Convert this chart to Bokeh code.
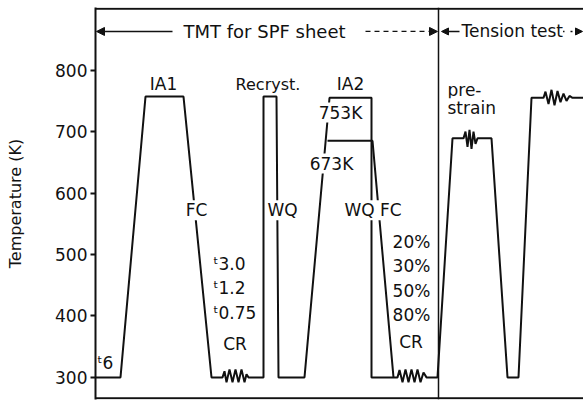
from bokeh.plotting import figure
from bokeh.models import Range1d, FixedTicker, Span, Label, Arrow, NormalHead
from bokeh.embed import file_html
from bokeh.resources import INLINE

# ---- data (schematic time units, temperature in K) ----
temp_ticks = [300, 400, 500, 600, 700, 800]

# main heat-treatment / test path: IA1 -> FC -> CR -> Recryst. -> WQ -> IA2(753K) -> WQ -> CR -> tension test
profile_time = [0, 25, 50, 88, 116,
                127, 129, 131, 134, 137, 140, 143, 146, 149, 151, 153,
                168, 168, 181, 183, 209, 234, 276, 276, 298,
                302, 304, 307, 310, 313, 316, 319, 322, 325, 328, 331,
                342, 357,
                368, 370, 372, 374, 376, 378, 380, 382, 396, 412, 423, 436,
                448, 450, 453, 456, 459, 462, 465, 468, 471, 474, 477, 488]
profile_temp = [300, 300, 757, 757, 300,
                300, 310, 292, 313, 292, 313, 292, 313, 292, 305, 300,
                300, 757, 757, 300, 300, 755, 755, 300, 300,
                300, 312, 292, 313, 292, 313, 292, 313, 292, 308, 300,
                300, 689,
                689, 700, 675, 703, 672, 700, 680, 689, 689, 300, 300, 755,
                755, 765, 745, 768, 743, 766, 748, 762, 750, 758, 755, 755]

# IA2 branch at 673 K followed by furnace cooling
branch_time = [232, 277, 298]
branch_temp = [685, 685, 300]

header_left = "TMT for SPF sheet"
header_right = "Tension test"
axis_title = "Temperature (K)"
step_labels = ["IA1", "Recryst.", "IA2", "753K", "673K", "pre-", "strain",
               "FC", "WQ", "WQ FC"]
thickness_labels = ["ᵗ3.0", "ᵗ1.2", "ᵗ0.75", "CR", "ᵗ6"]
reduction_labels = ["20%", "30%", "50%", "80%", "CR"]

FONT = "DejaVu Sans"
INK = "#111111"

p = figure(width=583, height=401, output_backend="svg", toolbar_location=None,
           x_range=Range1d(0, 488), y_range=Range1d(264, 902),
           x_axis_location=None,
           min_border_left=95, min_border_right=0, min_border_top=7, min_border_bottom=2)
p.outline_line_color = None
p.xgrid.visible = False
p.ygrid.visible = False
p.background_fill_color = "white"

ax = p.yaxis[0]
ax.ticker = FixedTicker(ticks=temp_ticks)
ax.axis_line_width = 2
ax.axis_line_color = INK
ax.major_tick_line_width = 2
ax.major_tick_line_color = INK
ax.major_tick_out = 5
ax.major_tick_in = 0
ax.minor_tick_out = 0
ax.minor_tick_in = 0
ax.major_label_standoff = 3
ax.major_label_text_font = FONT
ax.major_label_text_font_size = "17px"
ax.major_label_text_color = INK
ax.axis_label = axis_title
ax.axis_label_text_font = FONT
ax.axis_label_text_font_size = "16px"
ax.axis_label_text_font_style = "normal"
ax.axis_label_text_color = INK
ax.axis_label_standoff = 27

# frame lines
p.add_layout(Span(location=900, dimension="width", line_color=INK, line_width=2))
p.add_layout(Span(location=266, dimension="width", line_color=INK, line_width=2))
p.add_layout(Span(location=343, dimension="height", line_color=INK, line_width=1.5))

# profiles
p.line(profile_time, profile_temp, line_color=INK, line_width=2)
p.line(branch_time, branch_temp, line_color=INK, line_width=2)

# header arrows
p.add_layout(Arrow(end=NormalHead(size=8, fill_color=INK, line_color=INK),
                   x_start=77, y_start=863, x_end=1, y_end=863,
                   line_color=INK, line_width=1.5))
p.add_layout(Arrow(end=NormalHead(size=8, fill_color=INK, line_color=INK),
                   x_start=270, y_start=863, x_end=342, y_end=863,
                   line_color=INK, line_width=1.2, line_dash="5 4"))
p.add_layout(Arrow(end=NormalHead(size=7, fill_color=INK, line_color=INK),
                   x_start=364, y_start=863, x_end=346, y_end=863,
                   line_color=INK, line_width=1.5))
p.add_layout(Arrow(end=NormalHead(size=7, fill_color=INK, line_color=INK),
                   x_start=467, y_start=863, x_end=487, y_end=863,
                   line_color=INK, line_width=1.5, line_dash="2 6"))


def lab(x, y, text, size="17px", align="center", bg=True):
    p.add_layout(Label(x=x, y=y, text=text, text_font=FONT, text_font_size=size,
                       text_color=INK, text_align=align, text_baseline="middle",
                       background_fill_color="white" if bg else None))


lab(88, 863, header_left, size="18px", align="left")
lab(366, 863, header_right, size="17px", align="left")

lab(68, 777, step_labels[0])
lab(172.5, 777, step_labels[1], size="16px")
lab(255, 777, step_labels[2])
lab(245, 731, step_labels[3])
lab(236, 648, step_labels[4])
lab(352, 767, step_labels[5], align="left")
lab(352, 738, step_labels[6], align="left")
lab(101, 572, step_labels[7])
lab(187, 572, step_labels[8])
lab(277.5, 572, step_labels[9])

lab(118, 484, thickness_labels[0], align="left")
lab(118, 445, thickness_labels[1], align="left")
lab(118, 404, thickness_labels[2], align="left")
lab(139.5, 355, thickness_labels[3])
lab(2, 324, thickness_labels[4], align="left")

lab(316, 521, reduction_labels[0])
lab(316, 482, reduction_labels[1])
lab(316, 441, reduction_labels[2])
lab(316, 401, reduction_labels[3])
lab(315.5, 357, reduction_labels[4])

open("out.html", "w").write(file_html(p, INLINE))
